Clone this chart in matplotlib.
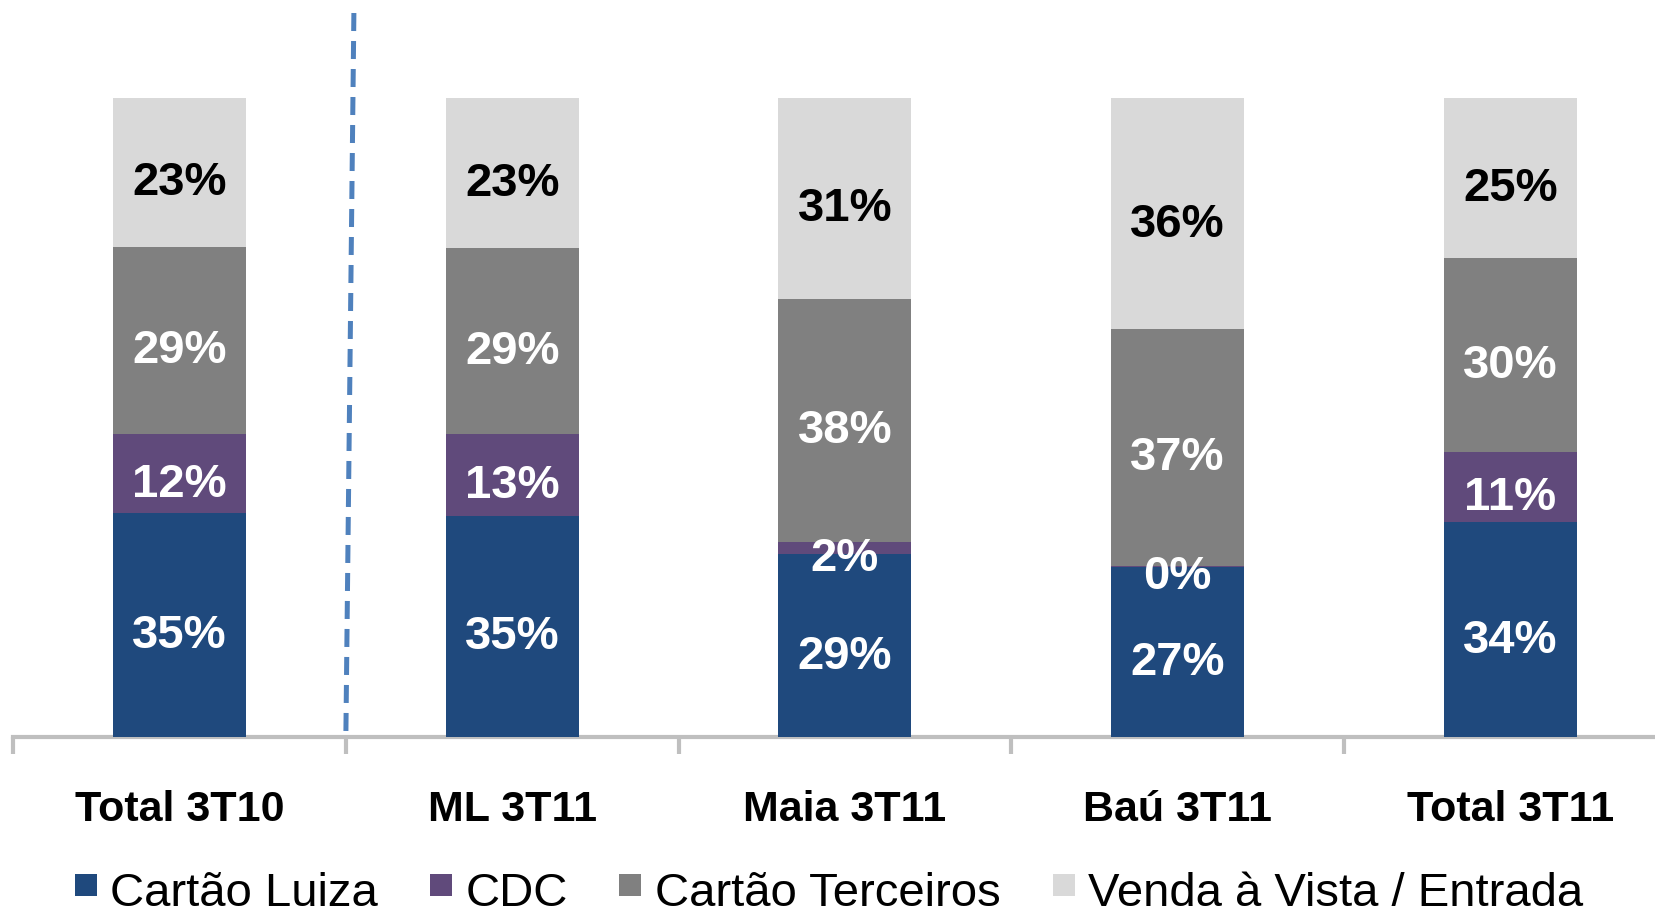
import matplotlib
matplotlib.use("Agg")
import matplotlib.pyplot as plt
from matplotlib.lines import Line2D
import numpy as np

plt.rcParams['font.family'] = ['Liberation Sans', 'DejaVu Sans']

categories = ["Total 3T10", "ML 3T11", "Maia 3T11", "Baú 3T11", "Total 3T11"]
series_names = ["Cartão Luiza", "CDC", "Cartão Terceiros", "Venda à Vista / Entrada"]
# shares in % (labels are these values rounded)
cartao_luiza = [35.0, 34.6, 28.6, 26.6, 33.6]
cdc = [12.4, 12.8, 1.9, 0.2, 11.0]
cartao_terceiros = [29.3, 29.2, 38.1, 37.0, 30.4]
venda_vista = [23.3, 23.4, 31.4, 36.2, 25.0]

colors = ["#1F497D", "#604A7B", "#808080", "#D9D9D9"]
label_colors = ["white", "white", "white", "black"]

series = np.array([cartao_luiza, cdc, cartao_terceiros, venda_vista], dtype=float)
shares = series / 100.0

fig = plt.figure(figsize=(16.56, 9.11), dpi=100)
ax = fig.add_axes([13.2 / 1656, (911 - 737) / 911, (1656 - 13.2) / 1656, (737 - 98) / 911])

x = np.arange(len(categories))
bottom = np.zeros(len(categories))
for i in range(len(series_names)):
    ax.bar(x, shares[i], width=0.4, bottom=bottom, color=colors[i],
           label=series_names[i], zorder=3, linewidth=0)
    for j in range(len(categories)):
        ax.annotate(f"{int(series[i, j] + 0.5)}%", (x[j], bottom[j] + shares[i, j] / 2),
                    xytext=(0, -16.5), textcoords="offset points",
                    ha="center", va="baseline", fontsize=34, fontweight="bold",
                    color=label_colors[i], zorder=5)
    bottom += shares[i]

ax.set_xlim(-0.5, -0.5 + (1656 - 13.2) / 332.7)
ax.set_ylim(0, 1)

for s in ["top", "right", "left"]:
    ax.spines[s].set_visible(False)
ax.spines["bottom"].set_color("#BFBFBF")
ax.spines["bottom"].set_linewidth(3.0)
ax.spines["bottom"].set_zorder(2)
ax.set_yticks([])

ax.set_xticks(x)
ax.set_xticklabels(categories, fontsize=31, fontweight="bold")
ax.tick_params(axis="x", which="major", length=0, pad=38)
ax.set_xticks(np.arange(-0.5, len(categories) - 0.5, 1.0), minor=True)
ax.tick_params(axis="x", which="minor", length=12, width=3.0, color="#BFBFBF", direction="out")

# dashed separator
ax.plot([0.524, 0.5], [1.133, 0.008], color="#4F81BD", linewidth=3.6,
        dashes=(3.6, 2.0), dash_capstyle="butt", clip_on=False, zorder=4)

handles = [Line2D([], [], marker="s", markersize=16.5, markeredgewidth=0,
                  color=c, linestyle="none") for c in colors]
fig.legend(handles, series_names, loc="lower left", bbox_to_anchor=(74 / 1656, -0.0055),
           ncol=4, frameon=False, fontsize=34, handlelength=0.49, handleheight=1.33,
           handletextpad=0.28, columnspacing=1.08, borderpad=0, borderaxespad=0)

fig.savefig("out.png", dpi=100)
